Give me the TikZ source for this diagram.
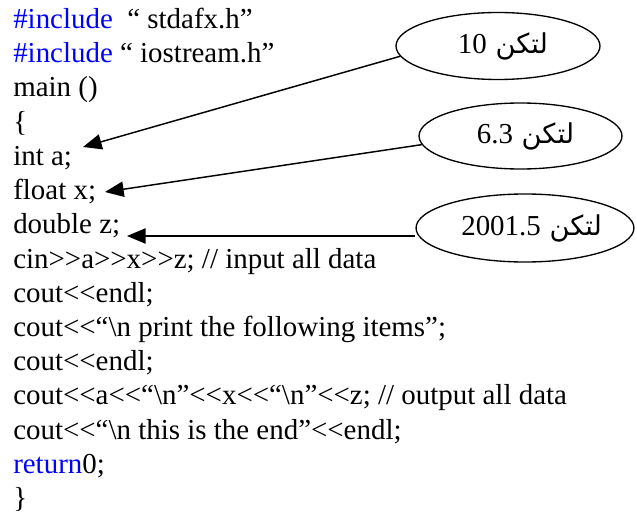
\documentclass[tikz,border=0pt]{standalone}
\usepackage{fontspec}
\setmainfont[Ligatures=TeXOff]{Liberation Serif}
\newfontfamily\arabicfont[Script=Arabic]{DejaVu Sans}
\TeXXeTstate=1
\usetikzlibrary{shapes.geometric,arrows.meta}
\definecolor{kwblue}{RGB}{0,0,255}
\begin{document}
\begin{tikzpicture}[x=0.75pt,y=-0.75pt,
  code/.style={anchor=base west, inner sep=0pt, font=\fontsize{21.7}{26}\selectfont},
  bubble/.style={draw, ellipse, line width=1pt, inner sep=0pt},
  pointer/.style={line width=1.1pt, -{Triangle[length=14pt,width=11.5pt]}}]
\useasboundingbox (0,0) rectangle (637,521);
% code lines
\node[code] (l1)  at (13,28.3)  {\textcolor{kwblue}{\#include}\ \ “ stdafx.h”};
\node[code] (l2)  at (13,62.5)  {\textcolor{kwblue}{\#include} “ iostream.h”};
\node[code] (l3)  at (13,96.8)  {main ()};
\node[code] (l4)  at (13,131.0) {\{};
\node[code] (l5)  at (13,165.3) {int a;};
\node[code] (l6)  at (13,199.5) {float x;};
\node[code] (l7)  at (13,233.7) {double z;};
\node[code] (l8)  at (13,268.0) {cin>>a>>x>>z; // input all data};
\node[code] (l9)  at (13,302.2) {cout<<endl;};
\node[code] (l10) at (13,336.5) {cout<<“\textbackslash n print the following items”;};
\node[code] (l11) at (13,370.7) {cout<<endl;};
\node[code] (l12) at (13,404.9) {cout<<a<<“\textbackslash n”<<x<<“\textbackslash n”<<z; // output all data};
\node[code] (l13) at (13,439.2) {cout<<“\textbackslash n this is the end”<<endl;};
\node[code] (l14) at (13,473.4) {\textcolor{kwblue}{return}0;};
\node[code] (l15) at (13,507.7) {\}};
% bubbles
\node[bubble, minimum width=204*0.75pt, minimum height=67*0.75pt] (e1) at (498,46)
  {\hspace*{7.5pt}\arabicfont\fontsize{20.5}{24}\selectfont\beginR لتكن \beginL{\rmfamily\fontsize{21.7}{26}\selectfont 10}\endL\endR};
\node[bubble, minimum width=203*0.75pt, minimum height=66*0.75pt] (e2) at (520.5,136)
  {\hspace*{7.5pt}\arabicfont\fontsize{20.5}{24}\selectfont\beginR لتكن \beginL{\rmfamily\fontsize{21.7}{26}\selectfont 6.3}\endL\endR};
\node[bubble, minimum width=210*0.75pt, minimum height=68*0.75pt] (e3) at (525,228)
  {\hspace*{10pt}\arabicfont\fontsize{20.5}{24}\selectfont\beginR لتكن \beginL{\rmfamily\fontsize{21.7}{26}\selectfont 2001.5}\endL\endR};
% arrow targets
\coordinate (t1) at (83,147);
\coordinate (t2) at (105,192);
\coordinate (t3) at (127,236);
\draw[pointer] (e1.186) -- (t1);
\draw[pointer] (e2.185) -- (t2);
\draw[pointer] (e3.west |- t3) -- (t3);
\end{tikzpicture}
\end{document}
